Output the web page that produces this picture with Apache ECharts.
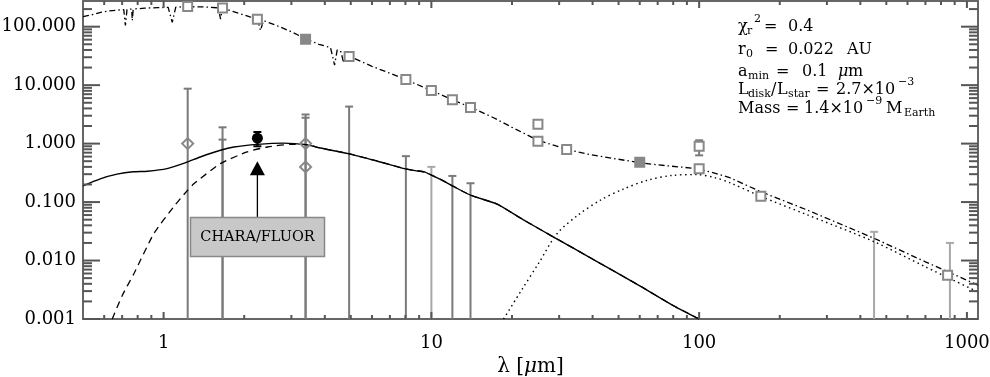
<!DOCTYPE html>
<html>
<head>
<meta charset="utf-8">
<script src="https://cdn.jsdelivr.net/npm/echarts@6/dist/echarts.min.js"></script>
<style>
html, body { margin: 0; padding: 0; background: #fff; }
#sed { width: 990px; height: 377px; }
</style>
</head>
<body>
<div id="sed"></div>
<script>
// total model (star + disk), dash-dot; the dips are stellar absorption lines
const totalLam  = [0.5, 0.55, 0.582, 0.62, 0.68, 0.71, 0.72, 0.73, 0.76, 0.764, 0.77, 0.85, 0.95, 1.04, 1.077, 1.11, 1.22, 1.4, 1.6, 1.632, 1.66, 1.9, 2.1, 2.24, 2.3, 2.36, 2.6, 3.0, 3.4, 3.8, 4.2, 4.35, 4.45, 4.6, 4.7, 4.8, 5.3, 6.0, 7.0, 8.0, 10, 12, 14, 17, 20, 25, 32, 39, 50, 60, 75, 98, 115, 130, 170, 250, 450, 700, 1100];
const totalFlux = [149, 163, 176, 185, 193, 196, 105, 197, 200, 127, 201, 207, 212, 214, 119, 215, 220, 218, 210, 135, 208, 170, 147, 137, 86, 127, 108, 82, 62, 50, 44, 22, 40, 37, 24, 34, 27, 21, 16, 12.5, 8.1, 5.6, 4.2, 2.8, 1.9, 1.14, 0.8, 0.65, 0.54, 0.47, 0.42, 0.374, 0.31, 0.262, 0.15, 0.075, 0.024, 0.0095, 0.0038];

// hot dust, solid
const hotLam  = [0.5, 0.58, 0.67, 0.77, 0.87, 1.03, 1.21, 1.37, 1.63, 1.83, 2.24, 2.8, 3.4, 3.85, 4.9, 6.3, 8.0, 8.7, 9.4, 10, 11, 12.1, 14, 17.6, 22, 28.5, 40, 60, 80, 100];
const hotFlux = [0.19, 0.25, 0.30, 0.33, 0.337, 0.374, 0.474, 0.59, 0.77, 0.875, 0.97, 1.02, 0.96, 0.84, 0.675, 0.5, 0.37, 0.345, 0.328, 0.29, 0.235, 0.185, 0.131, 0.092, 0.05, 0.0255, 0.0106, 0.0037, 0.0017, 0.001];

// thermal emission, dashed
const thermLam  = [0.643, 0.7, 0.775, 0.92, 1.09, 1.23, 1.3, 1.63, 2.05, 2.44, 2.98, 3.43, 3.85, 4.9, 6.3, 8.0, 8.7, 9.4, 10, 11, 12.1, 14, 17.6, 22, 28.5, 40, 60, 80, 100];
const thermFlux = [0.001, 0.0025, 0.006, 0.029, 0.083, 0.16, 0.207, 0.455, 0.72, 0.875, 0.97, 0.96, 0.84, 0.675, 0.5, 0.37, 0.345, 0.328, 0.29, 0.235, 0.185, 0.131, 0.092, 0.05, 0.0255, 0.0106, 0.0037, 0.0017, 0.001];

// cold dust, dotted
const coldLam  = [18.6, 21.7, 25.3, 29.5, 35.3, 42.8, 52, 64, 79, 98, 115, 130, 170, 250, 450, 700, 1100];
const coldFlux = [0.001, 0.0031, 0.0094, 0.029, 0.06, 0.108, 0.166, 0.236, 0.285, 0.295, 0.26, 0.215, 0.125, 0.062, 0.021, 0.0078, 0.0029];

// photometry (squares), 1 = filled
const photLam    = [1.23, 1.66, 2.24, 3.39, 4.93, 8.03, 10, 11.98, 14, 25, 25, 32, 60, 100, 100, 170, 847];
const photFlux   = [222, 209, 134, 61, 31, 12.5, 8.1, 5.6, 4.15, 2.15, 1.1, 0.79, 0.48, 0.9, 0.37, 0.126, 0.0056];
const photFilled = [0, 0, 0, 1, 0, 0, 0, 0, 0, 0, 0, 0, 1, 0, 0, 0, 0];

// excess points (diamonds)
const diamLam  = [1.23, 3.39, 3.39];
const diamFlux = [1.0, 1.0, 0.4];

// error bars: [lambda, low, high, lower cap]
const darkBars = [[1.23, 0.001, 8.7, 0], [1.66, 0.001, 1.9, 0], [1.66, 0.001, 1.17, 0], [3.39, 0.001, 3.15, 0], [3.39, 0.001, 2.77, 0], [4.93, 0.001, 4.3, 0], [8.03, 0.001, 0.61, 0], [11.98, 0.001, 0.28, 0], [14, 0.001, 0.21, 0], [100, 0.63, 1.14, 1]];
const paleBars = [[10, 0.001, 0.4, 0], [450, 0.001, 0.031, 0], [864, 0.001, 0.02, 0]];

// CHARA/FLUOR
const charaLam = 2.24;
const charaFlux = 1.24;
const charaBar = [[2.24, 0.9, 1.58, 1]];
const arrowFlux = 0.38;
const arrowStem = [[2.24, 0.29], [2.24, 0.0546]];

// axis ranges and tick values
const X_MIN = 0.5, X_MAX = 1100, Y_MIN = 0.001, Y_MAX = 275;
const xMajor = [1, 10, 100, 1000];
const xMinor = [0.6, 0.7, 0.8, 0.9, 2, 3, 4, 5, 6, 7, 8, 9, 20, 30, 40, 50, 60, 70, 80, 90, 200, 300, 400, 500, 600, 700, 800, 900];
const yMajor = [0.001, 0.01, 0.1, 1, 10, 100];
const yMinor = [];
[0.001, 0.01, 0.1, 1, 10, 100].forEach(d => {
  for (let k = 2; k <= 9; k++) if (d * k < Y_MAX) yMinor.push(d * k);
});

const zip = (a, b) => a.map((v, i) => [v, b[i]]);
const isPow10 = v => Math.abs(Math.log10(v) - Math.round(Math.log10(v))) < 1e-6;
const FONT = 'DejaVu Serif';
const TICK = { stroke: '#555', lineWidth: 2 };

function barRender(color) {
  return function (params, api) {
    const x = api.value(0);
    const top = api.coord([x, api.value(2)]);
    const bot = api.coord([x, api.value(1)]);
    const st = { stroke: color, lineWidth: 2 };
    const kids = [
      { type: 'line', shape: { x1: top[0], y1: top[1], x2: bot[0], y2: bot[1] }, style: st },
      { type: 'line', shape: { x1: top[0] - 4, y1: top[1], x2: top[0] + 4, y2: top[1] }, style: st }
    ];
    if (api.value(3)) {
      kids.push({ type: 'line', shape: { x1: bot[0] - 4, y1: bot[1], x2: bot[0] + 4, y2: bot[1] }, style: st });
    }
    return { type: 'group', children: kids };
  };
}

// inward ticks on bottom+top (x) and left+right (y)
function xTick(params, api) {
  const v = api.value(0), len = api.value(2);
  const b = api.coord([v, Y_MIN]);
  const t = api.coord([v, Y_MAX]);
  return { type: 'group', children: [
    { type: 'line', shape: { x1: b[0], y1: b[1], x2: b[0], y2: b[1] - len }, style: TICK },
    { type: 'line', shape: { x1: t[0], y1: t[1], x2: t[0], y2: t[1] + len }, style: TICK }
  ] };
}
function yTick(params, api) {
  const v = api.value(1), len = api.value(2);
  const l = api.coord([X_MIN, v]);
  const r = api.coord([X_MAX, v]);
  return { type: 'group', children: [
    { type: 'line', shape: { x1: l[0], y1: l[1], x2: l[0] + len, y2: l[1] }, style: TICK },
    { type: 'line', shape: { x1: r[0], y1: r[1], x2: r[0] - len, y2: r[1] }, style: TICK }
  ] };
}

const axisLine = { show: true, lineStyle: { color: '#666', width: 2 } };

const chart = echarts.init(document.getElementById('sed'));

let option = {
  animation: false,
  grid: { left: 83, right: 12, top: 1, bottom: 58, outerBoundsMode: 'none', containLabel: false },
  xAxis: [
    {
      type: 'log', min: X_MIN, max: X_MAX, position: 'bottom',
      axisLine: axisLine, axisTick: { show: false }, splitLine: { show: false },
      axisLabel: {
        margin: 15, fontFamily: FONT, fontSize: 18, color: '#000',
        formatter: v => isPow10(v) ? String(Math.round(v)) : ''
      },
      name: '{n|λ [}{i|μ}{n|m]}', nameLocation: 'middle', nameGap: 38,
      nameTextStyle: {
        rich: {
          n: { fontFamily: FONT, fontSize: 20, color: '#000' },
          i: { fontFamily: FONT, fontSize: 20, fontStyle: 'italic', color: '#000' }
        }
      }
    },
    {
      type: 'log', min: X_MIN, max: X_MAX, position: 'top',
      axisLine: axisLine, axisTick: { show: false }, splitLine: { show: false },
      axisLabel: { show: false }
    }
  ],
  yAxis: [
    {
      type: 'log', min: Y_MIN, max: Y_MAX, position: 'left',
      axisLine: axisLine, axisTick: { show: false }, splitLine: { show: false },
      axisLabel: {
        margin: 7, fontFamily: FONT, fontSize: 18, color: '#000',
        formatter: v => isPow10(v) ? v.toFixed(3) : ''
      }
    },
    {
      type: 'log', min: Y_MIN, max: Y_MAX, position: 'right',
      axisLine: axisLine, axisTick: { show: false }, splitLine: { show: false },
      axisLabel: { show: false }
    }
  ],
  series: [
    { type: 'custom', name: 'x major', renderItem: xTick, data: xMajor.map(v => [v, 1, 7]), clip: false, silent: true, z: 6 },
    { type: 'custom', name: 'x minor', renderItem: xTick, data: xMinor.map(v => [v, 1, 4]), clip: false, silent: true, z: 6 },
    { type: 'custom', name: 'y major', renderItem: yTick, data: yMajor.map(v => [1, v, 17]), clip: false, silent: true, z: 6 },
    { type: 'custom', name: 'y minor', renderItem: yTick, data: yMinor.map(v => [1, v, 9]), clip: false, silent: true, z: 6 },
    { type: 'custom', name: 'upper limits', renderItem: barRender('#7a7a7a'), data: darkBars, z: 2 },
    { type: 'custom', name: 'pale limits', renderItem: barRender('#a8a8a8'), data: paleBars, z: 2 },
    {
      type: 'line', name: 'total', data: zip(totalLam, totalFlux), showSymbol: false,
      lineStyle: { color: '#000', width: 1.3, type: [6, 3, 1.5, 3] }, z: 3
    },
    {
      type: 'line', name: 'hot', data: zip(hotLam, hotFlux), showSymbol: false, smooth: 0.2,
      lineStyle: { color: '#000', width: 1.4 }, z: 3
    },
    {
      type: 'line', name: 'thermal', data: zip(thermLam, thermFlux), showSymbol: false, smooth: 0.2,
      lineStyle: { color: '#000', width: 1.3, type: [7, 5] }, z: 3
    },
    {
      type: 'line', name: 'cold', data: zip(coldLam, coldFlux), showSymbol: false, smooth: 0.3,
      lineStyle: { color: '#000', width: 1.4, type: [1.5, 3.5] }, z: 3
    },
    {
      type: 'scatter', name: 'photometry', symbol: 'rect', symbolSize: 9,
      data: photLam.map((l, i) => ({
        value: [l, photFlux[i]],
        itemStyle: { color: photFilled[i] ? '#888' : '#fff', borderColor: '#888', borderWidth: 2, opacity: 1 }
      })), z: 4
    },
    {
      type: 'scatter', name: 'diamonds', symbol: 'diamond', symbolSize: [11, 11],
      data: zip(diamLam, diamFlux),
      itemStyle: { color: 'rgba(255,255,255,0)', borderColor: '#888', borderWidth: 2, opacity: 1 }, z: 4
    },
    { type: 'custom', name: 'chara bar', renderItem: barRender('#000'), data: charaBar, z: 5 },
    {
      type: 'scatter', name: 'CHARA/FLUOR', symbol: 'circle', symbolSize: 11,
      data: [[charaLam, charaFlux]], itemStyle: { color: '#000', opacity: 1 }, z: 5
    },
    {
      type: 'line', name: 'stem', data: arrowStem, showSymbol: false,
      lineStyle: { color: '#000', width: 1.3 }, z: 5
    },
    {
      type: 'scatter', name: 'arrow', symbol: 'triangle', symbolSize: [15, 14],
      data: [[charaLam, arrowFlux]], itemStyle: { color: '#000', opacity: 1 }, z: 5
    }
  ]
};

// annotation block, top right: [text, x, kind] kind 0 normal, -1 sub, 1 sup, 2 italic
const BIG = 16, SMALL = 11;
const textRows = [
  { y: 28, parts: [['χ', 738, 0], ['r', 747, -1], ['2', 754, 1], ['=', 764, 0], ['0.4', 788, 0]] },
  { y: 51, parts: [['r', 738, 0], ['0', 746, -1], ['=', 765, 0], ['0.022', 788, 0], ['AU', 847, 0]] },
  { y: 73, parts: [['a', 738, 0], ['min', 748, -1], ['=', 776, 0], ['0.1', 802, 0], ['μ', 838, 2], ['m', 848, 0]] },
  { y: 90.5, parts: [['L', 738, 0], ['disk', 748, -1], ['/', 771, 0], ['L', 777, 0], ['star', 788, -1], ['=', 816, 0], ['2.7×10', 836, 0], ['−3', 898, 1]] },
  { y: 110, parts: [['Mass', 738, 0], ['=', 786, 0], ['1.4×10', 804, 0], ['−9', 866, 1], ['M', 886, 0], ['Earth', 904, -1]] }
];
const graphics = [];
textRows.forEach(row => {
  row.parts.forEach(p => {
    const small = p[2] === 1 || p[2] === -1;
    const size = small ? SMALL : BIG;
    let base = row.y;
    if (p[2] === -1) base += 4;
    if (p[2] === 1) base -= 8;
    graphics.push({
      type: 'text', x: p[1], y: base - 0.06 * size,
      style: {
        text: p[0], fill: '#000', verticalAlign: 'middle', align: 'left',
        font: (p[2] === 2 ? 'italic ' : '') + size + 'px "' + FONT + '"'
      }, z: 10
    });
  });
});
graphics.push({
  type: 'rect', shape: { x: 190.5, y: 217.5, width: 134, height: 39 },
  style: { fill: '#c8c8c8', stroke: '#888', lineWidth: 1.5 }, z: 10
});
graphics.push({
  type: 'text', x: 257.5, y: 237.5,
  style: { text: 'CHARA/FLUOR', fill: '#000', align: 'center', verticalAlign: 'middle', font: '14.5px "' + FONT + '"' },
  z: 11
});
option.graphic = graphics;

option && chart.setOption(option);
</script>
</body>
</html>
